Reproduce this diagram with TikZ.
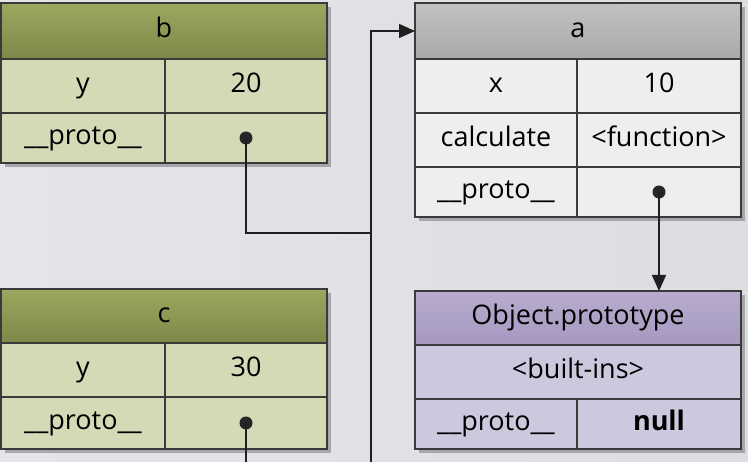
\documentclass[tikz,border=0pt]{standalone}
\usepackage{fontspec}
\setmainfont{Open Sans}
\usetikzlibrary{positioning, arrows.meta, shadows}

\definecolor{bgc}{RGB}{227,228,232}
\definecolor{linec}{RGB}{58,58,58}
\definecolor{shadc}{RGB}{140,142,146}
\definecolor{olivetop}{RGB}{156,168,96}
\definecolor{olivebot}{RGB}{124,136,72}
\definecolor{olivecell}{RGB}{212,218,182}
\definecolor{greytop}{RGB}{194,194,194}
\definecolor{greybot}{RGB}{168,168,168}
\definecolor{greycell}{RGB}{238,238,238}
\definecolor{violettop}{RGB}{184,172,206}
\definecolor{violetbot}{RGB}{166,152,192}
\definecolor{violetcell}{RGB}{206,200,222}

\begin{document}
\begin{tikzpicture}[
    x=1pt, y=-1pt,
    cell/.style={%
      draw=linec,
      line width=1.6pt,
      rectangle,
      inner sep=0pt,
      outer sep=0pt,
      minimum height=54pt,
      text height=20pt,
      text depth=6pt,
      font=\fontsize{27}{30}\selectfont,
      drop shadow={shadow xshift=4pt, shadow yshift=-4pt, fill=shadc, opacity=0.7},
    },
    ohead/.style={cell, minimum height=56pt, top color=olivetop, bottom color=olivebot},
    ocell/.style={cell, fill=olivecell},
    ghead/.style={cell, minimum height=56pt, top color=greytop, bottom color=greybot},
    gcell/.style={cell, fill=greycell},
    vhead/.style={cell, minimum height=54pt, top color=violettop, bottom color=violetbot},
    vcell/.style={cell, fill=violetcell},
    dot/.style={circle, fill=black!85, inner sep=0pt, minimum size=13pt},
    link/.style={draw=black!88, line width=1.6pt},
    arrow/.style={link, -{Triangle[length=16pt, width=14pt]}},
  ]

    \useasboundingbox (0,0) rectangle (748,462);
    \clip (0,0) rectangle (748,462);
    \shade [left color=bgc!96!white, right color=bgc!97!black] (0,0) rectangle (748,462);

    % object b
    \node [ohead, minimum width=326pt] (bh) at (164,31) {b};
    \node [ocell, minimum width=164pt, anchor=north west] (by) at (bh.south west) {y};
    \node [ocell, minimum width=162pt, anchor=north west] (byv) at (by.north east) {20};
    \node [ocell, minimum width=164pt, minimum height=50pt, anchor=north west] (bp) at (by.south west) {\_\_proto\_\_};
    \node [ocell, minimum width=162pt, minimum height=50pt, anchor=north west] (bpv) at (bp.north east) {};
    \node [dot] (bd) at (bpv.center) {};

    % object c
    \node [ohead, minimum width=326pt, minimum height=54pt] (ch) at (164,316) {c};
    \node [ocell, minimum width=164pt, anchor=north west] (cy) at (ch.south west) {y};
    \node [ocell, minimum width=162pt, anchor=north west] (cyv) at (cy.north east) {30};
    \node [ocell, minimum width=164pt, minimum height=52pt, anchor=north west] (cp) at (cy.south west) {\_\_proto\_\_};
    \node [ocell, minimum width=162pt, minimum height=52pt, anchor=north west] (cpv) at (cp.north east) {};
    \node [dot] (cd) at (cpv.center) {};

    % object a
    \node [ghead, minimum width=326pt] (ah) at (578,31) {a};
    \node [gcell, minimum width=162pt, anchor=north west] (ax) at (ah.south west) {x};
    \node [gcell, minimum width=164pt, anchor=north west] (axv) at (ax.north east) {10};
    \node [gcell, minimum width=162pt, anchor=north west] (ac) at (ax.south west) {calculate};
    \node [gcell, minimum width=164pt, anchor=north west] (acv) at (ac.north east) {<function>};
    \node [gcell, minimum width=162pt, minimum height=50pt, anchor=north west] (ap) at (ac.south west) {\_\_proto\_\_};
    \node [gcell, minimum width=164pt, minimum height=50pt, anchor=north west] (apv) at (ap.north east) {};
    \node [dot] (ad) at (apv.center) {};

    % Object.prototype
    \node [vhead, minimum width=326pt] (oh) at (578,318) {Object.prototype};
    \node [vcell, minimum width=326pt, anchor=north west] (ob) at (oh.south west) {<built-ins>};
    \node [vcell, minimum width=162pt, minimum height=50pt, anchor=north west] (op) at (ob.south west) {\_\_proto\_\_};
    \node [vcell, minimum width=164pt, minimum height=50pt, anchor=north west] (opv) at (op.north east) {\textbf{null}};

    % links
    \coordinate (bjoin) at (371,233);
    \coordinate (cjoin) at (371,500);
    \draw [link] (bd.center) |- (bjoin);
    \draw [link] (cd.center) |- (cjoin) -- (bjoin);
    \draw [arrow] (bjoin) |- (ah.west);
    \draw [arrow] (ad.center) -- (ad |- oh.north);
\end{tikzpicture}
\end{document}
